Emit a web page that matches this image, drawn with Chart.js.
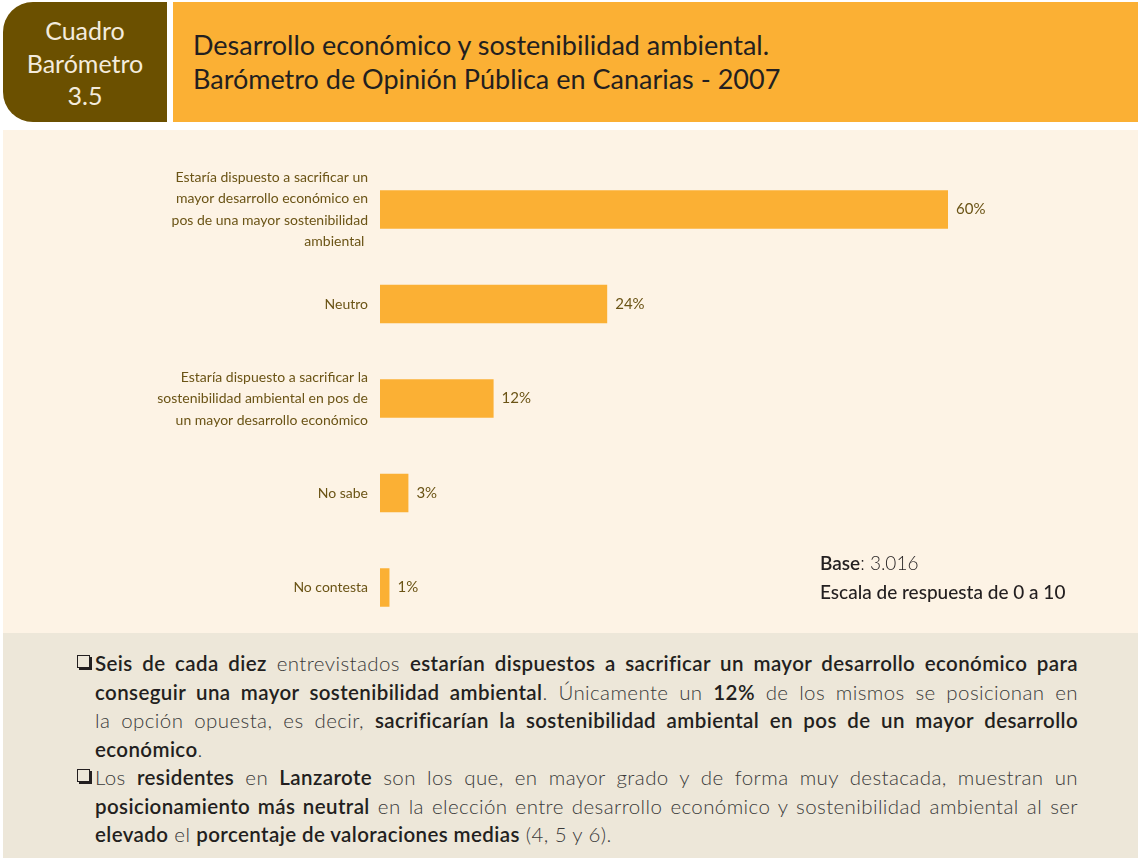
<!DOCTYPE html>
<html>
<head>
<meta charset="utf-8">
<script src="https://cdn.jsdelivr.net/npm/chart.js@4"></script>
<style>
  html, body { margin: 0; padding: 0; background: #fff; }
  body { width: 1138px; height: 861px; position: relative; overflow: hidden; font-family: Lato, "Open Sans", sans-serif; }
  .tag { position: absolute; left: 3px; top: 2px; width: 164px; height: 120px; background: #6B5000;
         border-radius: 30px 0 0 30px; color: #F3EBDD; font-size: 25px; line-height: 32.5px;
         text-align: center; padding-top: 12px; box-sizing: border-box; }
  .head { position: absolute; left: 173px; top: 2px; right: 0; height: 120px; background: #FBB034; }
  .head h1 { margin: 0; position: absolute; left: 20px; top: 26px; font-weight: 400; font-size: 27px;
             line-height: 34px; color: #231F20; }
  .panel { position: absolute; left: 3px; top: 130px; right: 0; height: 503px; background: #FDF3E5; }
  .notes { position: absolute; left: 3px; top: 633px; right: 0; height: 225px; background: #EDE7D9; }
  #wrap { position: absolute; left: 0; top: 150px; width: 1138px; height: 490px; }
  .base { position: absolute; left: 820px; top: 548px; font-size: 19px; line-height: 29px; color: #231F20; }
  .base b { font-weight: 600; }
  .base .l { font-weight: 300; }
  ul { list-style: none; margin: 0; padding: 0; position: absolute; left: 95px; top: 649px; width: 983px; }
  li { position: relative; font-size: 20.5px; letter-spacing: 0.4px; line-height: 28.5px; color: #3a3a3a; font-weight: 300; text-align: justify; }
  li b { font-weight: 600; color: #231F20; }
  li::before { content: ""; position: absolute; left: -18px; top: 6px; width: 11px; height: 11px;
               border: 1.5px solid #231F20; box-shadow: 2px 2px 0 #231F20; }
</style>
</head>
<body>
<div class="tag">Cuadro<br>Barómetro<br>3.5</div>
<div class="head"><h1>Desarrollo económico y sostenibilidad ambiental.<br>Barómetro de Opinión Pública en Canarias - 2007</h1></div>
<div class="panel"></div>
<div class="notes"></div>
<div id="wrap"><canvas id="chart"></canvas></div>
<div class="base"><b>Base</b><span class="l">: 3.016</span><br><span style="font-weight:500">Escala de respuesta de 0 a 10</span></div>
<ul>
  <li><b>Seis de cada diez</b> entrevistados <b>estarían dispuestos a sacrificar un mayor desarrollo económico para conseguir una mayor sostenibilidad ambiental</b>. Únicamente un <b>12%</b> de los mismos se posicionan en la&nbsp;opción opuesta, es decir, <b>sacrificarían la sostenibilidad ambiental en pos de un mayor desarrollo económico</b>.</li>
  <li>Los <b>residentes</b> en <b>Lanzarote</b> son los que, en mayor grado y de forma muy destacada, muestran un <b>posicionamiento más neutral</b> en la elección entre desarrollo económico y sostenibilidad ambiental al ser <b>elevado</b> el <b>porcentaje de valoraciones medias</b> (4, 5 y 6).</li>
</ul>
<script>
  const categories = [
    ['Estaría dispuesto a sacrificar un', 'mayor desarrollo económico en', 'pos de una mayor sostenibilidad', 'ambiental '],
    ['Neutro'],
    ['Estaría dispuesto a sacrificar la', 'sostenibilidad ambiental en pos de', 'un mayor desarrollo económico'],
    ['No sabe'],
    ['No contesta']
  ];
  const values = [60, 24, 12, 3, 1];

  const labelColor = '#6B5416';

  // category names and value labels drawn by hand so multi-line labels don't squeeze the axis
  const textLabels = {
    id: 'textLabels',
    afterDatasetsDraw(chart) {
      const ctx = chart.ctx;
      const meta = chart.getDatasetMeta(0);
      const lh = 21.5;
      ctx.save();
      ctx.fillStyle = labelColor;
      ctx.textBaseline = 'middle';
      meta.data.forEach((bar, i) => {
        ctx.font = '15px Lato, sans-serif';
        ctx.textAlign = 'left';
        ctx.fillText(values[i] + '%', bar.x + 8, bar.y);
        const lines = categories[i];
        const y0 = bar.y - (lines.length - 1) * lh / 2;
        ctx.font = '14px Lato, sans-serif';
        ctx.textAlign = 'right';
        lines.forEach((t, j) => ctx.fillText(t, chart.chartArea.left - 12, y0 + j * lh));
      });
      ctx.restore();
    }
  };

  new Chart(document.getElementById('chart'), {
    type: 'bar',
    data: {
      labels: categories.map((c) => c.join(' ')),
      datasets: [{
        data: values,
        backgroundColor: '#FBB034',
        borderWidth: 0,
        barPercentage: 0.82,
        categoryPercentage: 0.5
      }]
    },
    options: {
      indexAxis: 'y',
      responsive: true,
      maintainAspectRatio: false,
      animation: false,
      layout: { padding: { top: 12.25, bottom: 5.25, left: 0, right: 0.67 } },
      plugins: { legend: { display: false }, tooltip: { enabled: false } },
      scales: {
        x: { display: false, min: 0, max: 80 },
        y: {
          grid: { display: false, drawTicks: false },
          border: { display: false },
          ticks: { display: false },
          afterFit(scale) { scale.width = 380; }
        }
      }
    },
    plugins: [textLabels]
  });
</script>
</body>
</html>
